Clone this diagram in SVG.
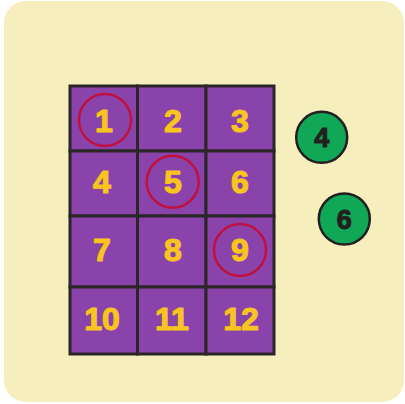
<svg xmlns="http://www.w3.org/2000/svg" width="405" height="404" viewBox="0 0 405 404">
<style>
.cell{fill:#8A43AB;stroke:#2B2626;stroke-width:3}
.num{font-family:"Liberation Sans",Arial,sans-serif;font-weight:bold;font-size:32px;fill:#F7C51E;stroke:#F7C51E;stroke-width:1.2;stroke-linejoin:round;text-anchor:middle}
.ring{fill:none;stroke:#C0113E;stroke-width:2.5}
.ball{fill:#10A857;stroke:#231F20;stroke-width:2.5}
.bnum{font-family:"Liberation Sans",Arial,sans-serif;font-weight:bold;font-size:27px;fill:#231F20;stroke:#231F20;stroke-width:1.1;stroke-linejoin:round;text-anchor:middle}
</style>
<rect x="4" y="1" width="400" height="401" rx="22" fill="#F7EEBE"/>
<g id="grid">
<rect class="cell" x="70" y="86" width="67.5" height="65"/>
<rect class="cell" x="137.5" y="86" width="68.5" height="65"/>
<rect class="cell" x="206" y="86" width="68" height="65"/>
<rect class="cell" x="70" y="151" width="67.5" height="65"/>
<rect class="cell" x="137.5" y="151" width="68.5" height="65"/>
<rect class="cell" x="206" y="151" width="68" height="65"/>
<rect class="cell" x="70" y="216" width="67.5" height="71"/>
<rect class="cell" x="137.5" y="216" width="68.5" height="71"/>
<rect class="cell" x="206" y="216" width="68" height="71"/>
<rect class="cell" x="70" y="287" width="67.5" height="67"/>
<rect class="cell" x="137.5" y="287" width="68.5" height="67"/>
<rect class="cell" x="206" y="287" width="68" height="67"/>
</g>
<g id="numbers">
<text class="num" x="104" y="132">1</text>
<text class="num" x="173" y="132">2</text>
<text class="num" x="240" y="132">3</text>
<text class="num" x="102" y="193">4</text>
<text class="num" x="173" y="193">5</text>
<text class="num" x="240" y="193">6</text>
<text class="num" x="102" y="260.5">7</text>
<text class="num" x="173" y="260.5">8</text>
<text class="num" x="240" y="260.5">9</text>
<text class="num" x="102" y="330">10</text>
<text class="num" x="172" y="330">11</text>
<text class="num" x="241" y="330">12</text>
</g>
<g id="rings">
<circle class="ring" cx="105" cy="120" r="26"/>
<circle class="ring" cx="172.7" cy="181.7" r="26"/>
<circle class="ring" cx="240" cy="250" r="26"/>
</g>
<g id="ball4">
<circle class="ball" cx="321.7" cy="137.3" r="25.5"/>
<text class="bnum" x="321.7" y="147">4</text>
</g>
<g id="ball6">
<circle class="ball" cx="344.3" cy="219" r="25.5"/>
<text class="bnum" x="344.3" y="228.7">6</text>
</g>
</svg>
